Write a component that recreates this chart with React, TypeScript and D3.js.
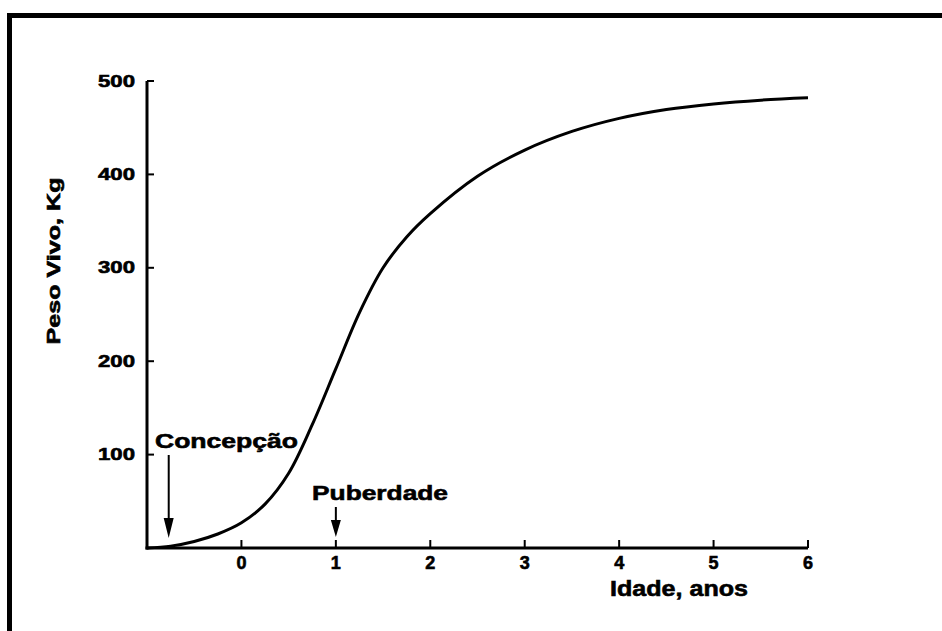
import React from "react";
import * as d3 from "d3";

const ages = [-1.0, -0.75, -0.5, -0.25, 0, 0.25, 0.5, 0.75, 1.0, 1.25, 1.5, 1.75, 2.0, 2.5, 3.0, 3.5, 4.0, 4.5, 5.0, 5.5, 6.0];
const weights = [0, 2, 7, 15, 27, 47, 80, 132, 192, 252, 300, 333, 358, 398, 426, 446, 460, 469.5, 475.5, 479.5, 482];
const xTicks = [0, 1, 2, 3, 4, 5, 6];
const yTicks = [100, 200, 300, 400, 500];
const annotations = [
  { label: "Concepção", age: -0.77 },
  { label: "Puberdade", age: 1.0 },
];
const xTitle = "Idade, anos";
const yTitle = "Peso Vivo, Kg";

const W = 942;
const H = 631;
const FONT = "'Liberation Sans', Arial, Helvetica, sans-serif";
const TXT = { fontFamily: FONT, fontWeight: "bold" as const, fill: "#000", stroke: "#000", strokeWidth: 0.6 };

export default function App() {
  const x = d3.scaleLinear().domain([-1, 6]).range([147, 808]);
  const y = d3.scaleLinear().domain([0, 500]).range([548, 81]);
  const data = ages.map((a, i) => [a, weights[i]] as [number, number]);
  const line = d3
    .line<[number, number]>()
    .x((d) => x(d[0]))
    .y((d) => y(d[1]))
    .curve(d3.curveCatmullRom.alpha(0.5));

  const conc = annotations[0];
  const pub = annotations[1];
  const cx = x(conc.age);
  const px = x(pub.age);

  return (
    <svg
      width={W}
      height={H}
      style={{ position: "absolute", left: 0, top: 0, background: "#fff" }}
    >
      <rect x={0} y={0} width={W} height={H} fill="#fff" />
      {/* frame */}
      <rect x={7} y={13} width={W - 7} height={5} fill="#000" />
      <rect x={7} y={13} width={5} height={H - 13} fill="#000" />

      {/* axes */}
      <line x1={x(-1)} y1={y(500)} x2={x(-1)} y2={y(0) + 1.5} stroke="#000" strokeWidth={3} />
      <line x1={x(-1) - 1.5} y1={y(0)} x2={x(6)} y2={y(0)} stroke="#000" strokeWidth={3} />
      {yTicks.map((t) => (
        <g key={"y" + t}>
          <line x1={x(-1)} x2={x(-1) + 7} y1={y(t)} y2={y(t)} stroke="#000" strokeWidth={2} />
          <text
            x={135}
            y={y(t)}
            textAnchor="end"
            dominantBaseline="central"
            {...TXT}
            fontSize={17}
            textLength={37}
            lengthAdjust="spacingAndGlyphs"
          >
            {t}
          </text>
        </g>
      ))}
      {xTicks.map((t) => (
        <g key={"x" + t}>
          <line x1={x(t)} x2={x(t)} y1={y(0)} y2={y(0) - 8} stroke="#000" strokeWidth={2} />
          <text x={x(t)} y={569} textAnchor="middle" {...TXT} fontSize={18}>
            {t}
          </text>
        </g>
      ))}

      {/* curve */}
      <path d={line(data) || ""} fill="none" stroke="#000" strokeWidth={3} />

      {/* annotations */}
      <text x={155} y={448} {...TXT} fontSize={21} textLength={143} lengthAdjust="spacingAndGlyphs">
        {conc.label}
      </text>
      <line x1={cx} x2={cx} y1={455} y2={522} stroke="#000" strokeWidth={2} />
      <path d={`M${cx - 5},${518} L${cx + 5},${518} L${cx},${538} Z`} fill="#000" />

      <text x={312} y={500} {...TXT} fontSize={21} textLength={136} lengthAdjust="spacingAndGlyphs">
        {pub.label}
      </text>
      <line x1={px} x2={px} y1={507} y2={524} stroke="#000" strokeWidth={2} />
      <path d={`M${px - 5},${520} L${px + 5},${520} L${px},${537} Z`} fill="#000" />

      {/* titles */}
      <text x={610} y={596} {...TXT} fontSize={22} textLength={138} lengthAdjust="spacingAndGlyphs">
        {xTitle}
      </text>
      <text
        transform={`translate(60,261) rotate(-90)`}
        textAnchor="middle"
        {...TXT}
        fontSize={18}
        textLength={167}
        lengthAdjust="spacingAndGlyphs"
      >
        {yTitle}
      </text>
    </svg>
  );
}
